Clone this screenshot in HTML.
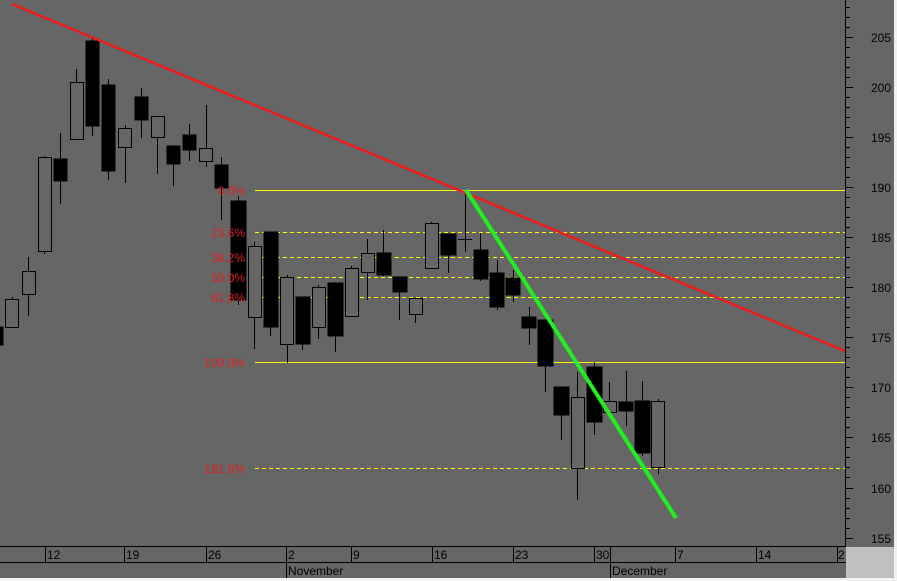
<!DOCTYPE html>
<html><head><meta charset="utf-8"><style>
html,body{margin:0;padding:0;background:#fff;}
svg{display:block;font-family:"Liberation Sans",sans-serif;}
</style></head><body>
<svg width="897" height="581" viewBox="0 0 897 581" xmlns="http://www.w3.org/2000/svg">
<rect x="0" y="0" width="897" height="581" fill="#f0f0f0"/>
<rect x="0" y="0" width="894" height="578" fill="#666"/>
<rect x="846" y="547" width="48" height="31" fill="#c0c0c0"/>
<!-- fib lines -->
<line x1="255" y1="190.5" x2="845" y2="190.5" stroke="#ffff00" stroke-width="1"/>
<line x1="255" y1="362.5" x2="845" y2="362.5" stroke="#ffff00" stroke-width="1"/>
<line x1="255" y1="232.5" x2="845" y2="232.5" stroke="#ffff00" stroke-width="1" stroke-dasharray="4,3"/>
<line x1="255" y1="257.5" x2="845" y2="257.5" stroke="#ffff00" stroke-width="1" stroke-dasharray="4,3"/>
<line x1="255" y1="277.5" x2="845" y2="277.5" stroke="#ffff00" stroke-width="1" stroke-dasharray="4,3"/>
<line x1="255" y1="297.5" x2="845" y2="297.5" stroke="#ffff00" stroke-width="1" stroke-dasharray="4,3"/>
<line x1="255" y1="468.5" x2="845" y2="468.5" stroke="#ffff00" stroke-width="1" stroke-dasharray="4,3"/>
<!-- candles -->
<g stroke="#000" stroke-width="1" shape-rendering="crispEdges">
<g fill="none">
<line x1="12.5" y1="297" x2="12.5" y2="327"/><rect x="5.5" y="299.5" width="13" height="28" fill="#666"/>
<line x1="28.5" y1="257" x2="28.5" y2="316"/><rect x="22.5" y="271.5" width="13" height="23" fill="#666"/>
<line x1="44.5" y1="156" x2="44.5" y2="254"/><rect x="38.5" y="157.5" width="13" height="94" fill="#666"/>
<line x1="76.5" y1="69" x2="76.5" y2="139"/><rect x="70.5" y="82.5" width="13" height="57" fill="#666"/>
<line x1="125.5" y1="125" x2="125.5" y2="183"/><rect x="118.5" y="128.5" width="13" height="19" fill="#666"/>
<line x1="157.5" y1="116" x2="157.5" y2="174"/><rect x="151.5" y="116.5" width="13" height="21" fill="#666"/>
<line x1="206.5" y1="105" x2="206.5" y2="167"/><rect x="199.5" y="148.5" width="13" height="13" fill="#666"/>
<line x1="254.5" y1="242" x2="254.5" y2="349"/><rect x="248.5" y="246.5" width="13" height="71" fill="#666"/>
<line x1="287.5" y1="275" x2="287.5" y2="363"/><rect x="280.5" y="277.5" width="13" height="67" fill="#666"/>
<line x1="318.5" y1="285" x2="318.5" y2="339"/><rect x="312.5" y="287.5" width="13" height="40" fill="#666"/>
<line x1="351.5" y1="266" x2="351.5" y2="316"/><rect x="345.5" y="268.5" width="13" height="48" fill="#666"/>
<line x1="367.5" y1="239" x2="367.5" y2="300"/><rect x="361.5" y="253.5" width="13" height="19" fill="#666"/>
<line x1="415.5" y1="298" x2="415.5" y2="323"/><rect x="409.5" y="298.5" width="13" height="16" fill="#666"/>
<line x1="431.5" y1="222" x2="431.5" y2="268"/><rect x="425.5" y="223.5" width="13" height="45" fill="#666"/>
<line x1="577.5" y1="372" x2="577.5" y2="500"/><rect x="571.5" y="397.5" width="13" height="71" fill="#666"/>
<line x1="609.5" y1="382" x2="609.5" y2="412"/><rect x="603.5" y="401.5" width="13" height="11" fill="#666"/>
<line x1="658.5" y1="399" x2="658.5" y2="474"/><rect x="651.5" y="401.5" width="13" height="66" fill="#666"/>
<line x1="458" y1="239.5" x2="472" y2="239.5"/><line x1="465.5" y1="190" x2="465.5" y2="252"/>
</g>
<g fill="#000">
<rect x="0" y="327" width="3" height="18"/>
<line x1="60.5" y1="133" x2="60.5" y2="204"/><rect x="54" y="159" width="13" height="22"/>
<line x1="92.5" y1="37" x2="92.5" y2="136"/><rect x="86" y="41" width="13" height="85"/>
<line x1="108.5" y1="79" x2="108.5" y2="180"/><rect x="102" y="85" width="13" height="86"/>
<line x1="141.5" y1="88" x2="141.5" y2="138"/><rect x="135" y="97" width="13" height="23"/>
<line x1="173.5" y1="146" x2="173.5" y2="186"/><rect x="167" y="146" width="13" height="18"/>
<line x1="189.5" y1="124" x2="189.5" y2="161"/><rect x="183" y="135" width="13" height="15"/>
<line x1="221.5" y1="157" x2="221.5" y2="220"/><rect x="215" y="165" width="13" height="23"/>
<line x1="238.5" y1="196" x2="238.5" y2="305"/><rect x="231" y="201" width="15" height="99"/>
<line x1="270.5" y1="232" x2="270.5" y2="336"/><rect x="264" y="232" width="14" height="95"/>
<line x1="302.5" y1="297" x2="302.5" y2="350"/><rect x="296" y="297" width="14" height="47"/>
<line x1="335.5" y1="282" x2="335.5" y2="352"/><rect x="328" y="283" width="15" height="53"/>
<line x1="383.5" y1="230" x2="383.5" y2="276"/><rect x="377" y="253" width="14" height="22"/>
<line x1="399.5" y1="277" x2="399.5" y2="320"/><rect x="393" y="277" width="14" height="15"/>
<line x1="448.5" y1="234" x2="448.5" y2="273"/><rect x="441" y="234" width="15" height="21"/>
<line x1="480.5" y1="233" x2="480.5" y2="281"/><rect x="474" y="250" width="14" height="29"/>
<line x1="497.5" y1="260" x2="497.5" y2="310"/><rect x="490" y="273" width="14" height="34"/>
<line x1="513.5" y1="270" x2="513.5" y2="302"/><rect x="506" y="278" width="14" height="17"/>
<line x1="529.5" y1="307" x2="529.5" y2="345"/><rect x="522" y="317" width="14" height="11"/>
<line x1="545.5" y1="320" x2="545.5" y2="392"/><rect x="538" y="320" width="15" height="46"/>
<line x1="561.5" y1="387" x2="561.5" y2="440"/><rect x="554" y="387" width="15" height="28"/>
<line x1="594.5" y1="362" x2="594.5" y2="435"/><rect x="587" y="367" width="15" height="55"/>
<line x1="626.5" y1="371" x2="626.5" y2="426"/><rect x="619" y="402" width="14" height="9"/>
<line x1="642.5" y1="381" x2="642.5" y2="456"/><rect x="635" y="401" width="15" height="52"/>
</g></g>
<!-- trend lines -->
<line x1="12" y1="4" x2="845" y2="351" stroke="#ee1c1c" stroke-width="2.5"/>
<line x1="466" y1="190" x2="676" y2="518" stroke="#22ee22" stroke-width="4"/>
<!-- fib labels -->
<g fill="#e02020" font-size="12" text-anchor="end">
<text x="245" y="195">0.0%</text>
<text x="245" y="237">23.6%</text>
<text x="245" y="262">38.2%</text>
<text x="245" y="282">50.0%</text>
<text x="245" y="302">61.8%</text>
<text x="245" y="367">100.0%</text>
<text x="245" y="473">161.8%</text>
</g>
<!-- right axis -->
<g stroke="#000" shape-rendering="crispEdges">
<line x1="845.5" y1="0" x2="845.5" y2="547"/>
<path d="M846 37.5h7M846 87.5h7M846 137.5h7M846 187.5h7M846 237.5h7M846 287.5h7M846 337.5h7M846 387.5h7M846 437.5h7M846 488.5h7M846 538.5h7"/>
<path d="M846 7.5h4M846 17.5h4M846 27.5h4M846 47.5h4M846 57.5h4M846 67.5h4M846 77.5h4M846 97.5h4M846 107.5h4M846 117.5h4M846 127.5h4M846 147.5h4M846 157.5h4M846 167.5h4M846 177.5h4M846 197.5h4M846 207.5h4M846 217.5h4M846 227.5h4M846 247.5h4M846 257.5h4M846 267.5h4M846 277.5h4M846 297.5h4M846 307.5h4M846 317.5h4M846 327.5h4M846 347.5h4M846 357.5h4M846 367.5h4M846 377.5h4M846 397.5h4M846 407.5h4M846 417.5h4M846 427.5h4M846 447.5h4M846 457.5h4M846 467.5h4M846 477.5h4M846 498.5h4M846 508.5h4M846 518.5h4M846 528.5h4"/>
</g>
<g fill="#000" font-size="12" text-anchor="end">
<text x="891" y="42">205</text><text x="891" y="92">200</text><text x="891" y="142">195</text>
<text x="891" y="192">190</text><text x="891" y="242">185</text><text x="891" y="292">180</text>
<text x="891" y="342">175</text><text x="891" y="392">170</text><text x="891" y="442">165</text>
<text x="891" y="493">160</text><text x="891" y="543">155</text>
</g>
<!-- bottom axis -->
<g stroke="#000" shape-rendering="crispEdges">
<line x1="0" y1="546.5" x2="846" y2="546.5"/>
<line x1="0" y1="562.5" x2="846" y2="562.5"/>
<path d="M45.5 547v15M124.5 547v15M206.5 547v15M351.5 547v15M432.5 547v15M513.5 547v15M594.5 547v15M675.5 547v15M756.5 547v15M837.5 547v15M286.5 547v31M610.5 547v31"/>
</g>
<rect x="0" y="578" width="897" height="3" fill="#f4f4f4"/>
<g fill="#000" font-size="12">
<text x="47" y="559">12</text><text x="126" y="559">19</text><text x="208" y="559">26</text>
<text x="288" y="559">2</text><text x="353" y="559">9</text><text x="434" y="559">16</text>
<text x="515" y="559">23</text><text x="596" y="559">30</text><text x="677" y="559">7</text>
<text x="758" y="559">14</text><text x="838" y="559">2</text>
<text x="288" y="575">November</text><text x="612" y="575">December</text>
</g>
</svg>
</body></html>
